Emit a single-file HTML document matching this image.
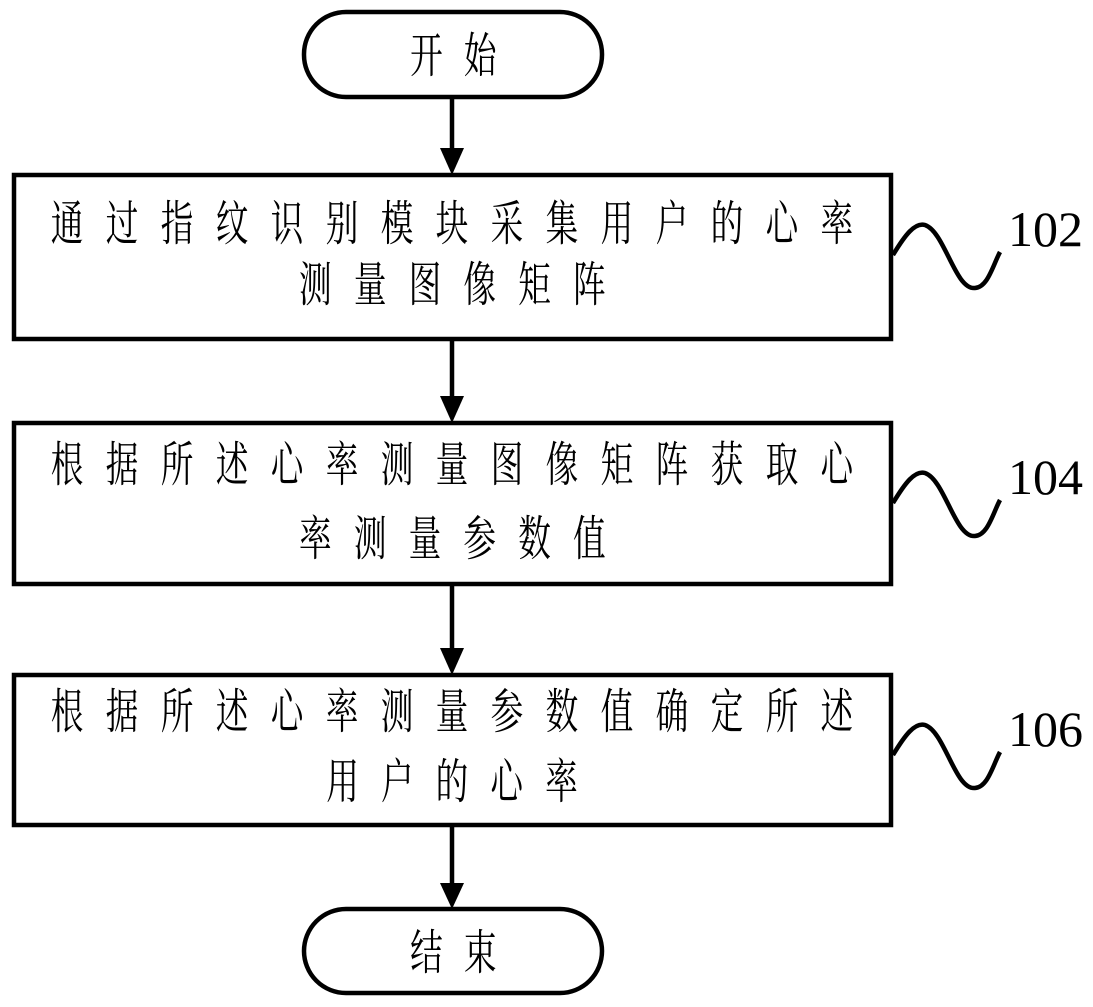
<!DOCTYPE html>
<html><head><meta charset="utf-8"><style>
html,body{margin:0;padding:0;background:#fff;}
svg{display:block;}
.t{font-family:"Liberation Serif","Noto Serif CJK SC",serif;font-size:48px;fill:#000;}
.n{font-family:"Liberation Serif",serif;font-size:50px;fill:#000;}
</style></head><body>
<svg width="1093" height="1007" viewBox="0 0 1093 1007" xmlns="http://www.w3.org/2000/svg">
<g fill="none" stroke="#000" stroke-width="4.5">
<rect x="304" y="12" width="298" height="85" rx="42" ry="42"/>
<rect x="304" y="909" width="298" height="84" rx="42" ry="42"/>
<rect x="14" y="175" width="877" height="164"/>
<rect x="14" y="423" width="877" height="161"/>
<rect x="14" y="675" width="877" height="150"/>
<line x1="452" y1="97" x2="452" y2="150"/>
<line x1="452" y1="339" x2="452" y2="398"/>
<line x1="452" y1="584" x2="452" y2="650"/>
<line x1="452" y1="825" x2="452" y2="885"/>
<path d="M893 255 C905 235 915 222 925 225 C945 232 955 290 975 288 C988 287 993 265 1000 252"/>
<path d="M893 503 C905 483 915 470 925 473 C945 480 955 538 975 536 C988 535 993 513 1000 500"/>
<path d="M893 755 C905 735 915 722 925 725 C945 732 955 790 975 788 C988 787 993 765 1000 752"/>
</g>
<g fill="#000">
<polygon points="440,148 464,148 452,175"/>
<polygon points="440,396 464,396 452,423"/>
<polygon points="440,648 464,648 452,675"/>
<polygon points="440,883 464,883 452,909"/>
</g>
<text class="n" x="1008" y="246">102</text>
<text class="n" x="1008" y="494">104</text>
<text class="n" x="1008" y="746">106</text>
<g class="t">
<text transform="translate(453,72) scale(0.68,1)" x="-63" textLength="127" lengthAdjust="spacing">开始</text>
<text transform="translate(453,969) scale(0.68,1)" x="-63" textLength="127" lengthAdjust="spacing">结束</text>
<text transform="translate(452,240) scale(0.68,1)" x="-590" textLength="1180" lengthAdjust="spacing">通过指纹识别模块采集用户的心率</text>
<text transform="translate(452,301) scale(0.68,1)" x="-225" textLength="451" lengthAdjust="spacing">测量图像矩阵</text>
<text transform="translate(452,481) scale(0.68,1)" x="-590" textLength="1180" lengthAdjust="spacing">根据所述心率测量图像矩阵获取心</text>
<text transform="translate(452,555) scale(0.68,1)" x="-225" textLength="451" lengthAdjust="spacing">率测量参数值</text>
<text transform="translate(452,728) scale(0.68,1)" x="-590" textLength="1180" lengthAdjust="spacing">根据所述心率测量参数值确定所述</text>
<text transform="translate(452,798) scale(0.68,1)" x="-185" textLength="370" lengthAdjust="spacing">用户的心率</text>
</g>
</svg>
</body></html>
